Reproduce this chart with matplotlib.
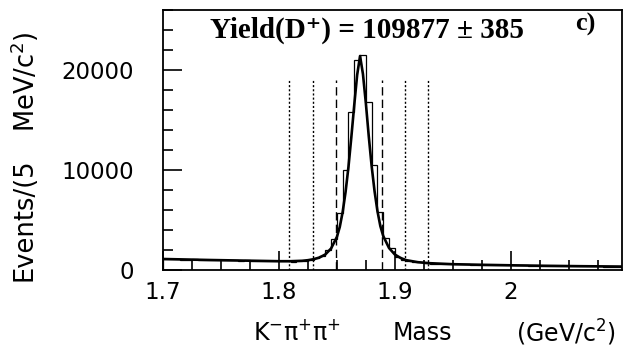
import numpy as np
import matplotlib
matplotlib.use("Agg")
import matplotlib.pyplot as plt
from matplotlib.ticker import MultipleLocator

plt.rcParams['font.family'] = ['DejaVu Sans']
plt.rcParams['mathtext.default'] = 'regular'

# histogram: 5 MeV bins from 1.700 GeV, counts
bin_start = 1.700
bin_width = 0.005
counts = [1100, 1080, 1120, 1050, 1040, 1060, 1000, 1020, 990, 1010,
          970, 1050, 980, 940, 960, 930, 900, 940, 870, 880,
          860, 900, 850, 880, 900, 960, 1200, 1400, 2000, 3100,
          5700, 10000, 15800, 21000, 21500, 16800, 10500, 5800, 3200, 2200,
          1300, 1050, 900, 800, 760, 700, 650, 640, 600, 610,
          580, 560, 570, 540, 530, 520, 540, 500, 490, 480,
          470, 460, 480, 440, 430, 440, 420, 410, 400, 420,
          390, 380, 400, 370, 360, 380, 350, 340, 350, 340]

# fitted curve, points
fit_x = [1.700, 1.720, 1.740, 1.760, 1.780, 1.800, 1.810, 1.820, 1.825, 1.830,
         1.835, 1.840, 1.845, 1.850, 1.8525, 1.855, 1.8575, 1.860, 1.8625, 1.865,
         1.8675, 1.870, 1.8725, 1.875, 1.8775, 1.880, 1.8825, 1.885, 1.8875, 1.890,
         1.895, 1.900, 1.905, 1.910, 1.920, 1.930, 1.950, 1.975, 2.000, 2.030,
         2.060, 2.100]
fit_y = [1100, 1050, 1000, 960, 920, 880, 880, 920, 980, 1080,
         1250, 1550, 2150, 3300, 4300, 5800, 7800, 10300, 13300, 16500,
         19500, 21400, 19600, 16700, 13400, 10400, 7900, 5900, 4400, 3400,
         2200, 1550, 1200, 980, 780, 680, 580, 520, 470, 420,
         380, 340]

# signal window (dashed) and sidebands (dotted)
signal_cuts = [1.849, 1.889]
sideband_cuts = [1.809, 1.829, 1.909, 1.929]
cut_height = 19000

edges = bin_start + bin_width * np.arange(len(counts) + 1)

fig = plt.figure(figsize=(6.24, 3.54), dpi=100)
ax = fig.add_axes([163/624, 1 - 270/354, (622 - 163)/624, (270 - 10)/354])

ax.stairs(counts, edges, color='black', lw=0.9)
ax.plot(fit_x, fit_y, color='black', lw=1.9)
ax.vlines(signal_cuts, 0, cut_height, colors='black', linestyles=(0, (6, 3)), lw=1.0)
ax.vlines(sideband_cuts, 0, cut_height, colors='black', linestyles=(0, (1.5, 1.5)), lw=1.0)

ax.set_xlim(1.7, 2.096)
ax.set_ylim(0, 26000)
ax.xaxis.set_minor_locator(MultipleLocator(0.025))
ax.yaxis.set_major_locator(MultipleLocator(10000))
ax.yaxis.set_minor_locator(MultipleLocator(2000))
ax.set_xticks([1.7, 1.8, 1.9, 2.0])
ax.set_xticklabels(['1.7', '1.8', '1.9', '2'])
ax.tick_params(which='both', direction='in', width=1.2, labelsize=16.5)
ax.tick_params(which='major', length=14)
ax.tick_params(which='minor', length=7)
ax.tick_params(axis='x', pad=8)
ax.tick_params(axis='y', pad=21)
for s in ax.spines.values():
    s.set_linewidth(1.3)

serif = ['Liberation Serif', 'DejaVu Serif']
ax.text(0.445, 0.92, 'Yield(D⁺) = 109877 ± 385', transform=ax.transAxes,
        ha='center', va='center', fontsize=21, fontweight='bold', family=serif)
ax.text(0.92, 0.945, 'c)', transform=ax.transAxes, ha='center', va='center',
        fontsize=19, fontweight='bold', family=serif)

# axis titles, placed in pieces to follow the wide spacing of the original
fig.text(297/624, 1 - 333/354, r'K$^{-}\pi^{+}\pi^{+}$', ha='center', va='center', fontsize=17)
fig.text(422/624, 1 - 333/354, 'Mass', ha='center', va='center', fontsize=17)
fig.text(566/624, 1 - 333/354, r'(GeV/c$^{2}$)', ha='center', va='center', fontsize=17)
fig.text(25/624, 1 - 220/354, 'Events/(5', rotation=90, ha='center', va='center', fontsize=18.5)
fig.text(25/624, 1 - 82/354, r'MeV/c$^{2}$)', rotation=90, ha='center', va='center', fontsize=18.5)

fig.savefig('out.png', dpi=100)
